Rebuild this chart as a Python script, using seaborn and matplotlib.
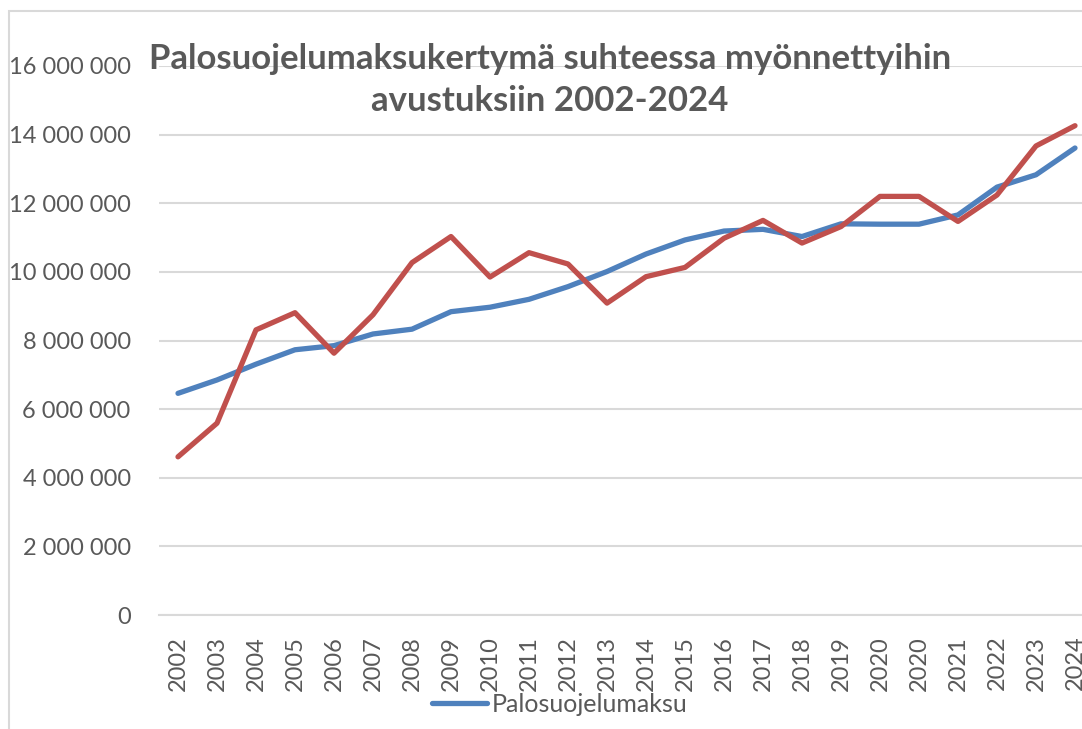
import numpy as np
import pandas as pd
import matplotlib
matplotlib.use("Agg")
import matplotlib.pyplot as plt
from matplotlib.patches import Rectangle
from matplotlib.ticker import FuncFormatter
import seaborn as sns

# Data (note: 2020 appears twice on the axis)
years = ["2002", "2003", "2004", "2005", "2006", "2007", "2008", "2009", "2010",
         "2011", "2012", "2013", "2014", "2015", "2016", "2017", "2018", "2019",
         "2020", "2020", "2021", "2022", "2023", "2024"]
palosuojelumaksu = [6.46, 6.85, 7.31, 7.73, 7.85, 8.19, 8.33, 8.84, 8.97,
                    9.20, 9.57, 10.01, 10.52, 10.93, 11.19, 11.24, 11.03, 11.40,
                    11.39, 11.39, 11.66, 12.47, 12.83, 13.61]
avustukset = [4.61, 5.59, 8.31, 8.81, 7.63, 8.75, 10.27, 11.03, 9.85,
              10.56, 10.23, 9.09, 9.86, 10.13, 10.98, 11.50, 10.84, 11.32,
              12.20, 12.20, 11.47, 12.24, 13.67, 14.26]

df = pd.DataFrame({
    "pos": np.arange(len(years)),
    "Palosuojelumaksu": np.array(palosuojelumaksu) * 1e6,
    "Avustukset": np.array(avustukset) * 1e6,
})

sns.set_theme(style="white")
plt.rcParams["font.family"] = ["Lato", "DejaVu Sans"]
text_col = "#595959"
grid_col = "#D9D9D9"

fig = plt.figure(figsize=(10.82, 7.29), dpi=100)
W, H = 1082, 729
ax = fig.add_axes([158.5 / W, (H - 615) / H, 936 / W, 549 / H])

sns.lineplot(data=df, x="pos", y="Palosuojelumaksu", ax=ax, color="#4F81BD",
             linewidth=3.8, label="Palosuojelumaksu", solid_capstyle="round")
sns.lineplot(data=df, x="pos", y="Avustukset", ax=ax, color="#C0504D",
             linewidth=3.8, label="_nolegend_", solid_capstyle="round")

ax.set_xlim(-0.5, len(years) - 0.5)
ax.set_ylim(0, 16e6)
ax.set_yticks(np.arange(0, 16e6 + 1, 2e6))
ax.yaxis.set_major_formatter(FuncFormatter(lambda v, p: f"{int(v):,}".replace(",", " ")))
ax.set_xticks(df["pos"])
ax.set_xticklabels(years, rotation=90)
ax.tick_params(axis="both", colors=text_col, labelsize=17, length=0)
ax.tick_params(axis="y", pad=20)
ax.tick_params(axis="x", pad=15)
ax.set_xlabel("")
ax.set_ylabel("")
ax.grid(axis="y", color=grid_col, linewidth=1.5)
ax.set_axisbelow(True)
for s in ["top", "right", "left"]:
    ax.spines[s].set_visible(False)
ax.spines["bottom"].set_color(grid_col)
ax.spines["bottom"].set_linewidth(1.5)
ax.get_legend().remove()

# Title
fig.text(550 / W, 1 - 80 / H,
         "Palosuojelumaksukertymä suhteessa myönnettyihin\navustuksiin 2002-2024",
         ha="center", va="center", fontsize=25, fontweight="bold",
         color=text_col, linespacing=1.42)

# Legend (only the blue series)
handles, labels = ax.get_legend_handles_labels()
fig.legend(handles[:1], labels[:1], loc="center", bbox_to_anchor=(560 / W, 1 - 704 / H),
           frameon=False, fontsize=18, handlelength=2.2, handletextpad=0.2,
           labelcolor=text_col)

# Chart area border
fig.patches.append(Rectangle((9 / W, -0.1), 1.2, (H - 11) / H + 0.1,
                             transform=fig.transFigure, fill=False,
                             edgecolor=grid_col, linewidth=1.5))

fig.savefig("out.png", dpi=100)
